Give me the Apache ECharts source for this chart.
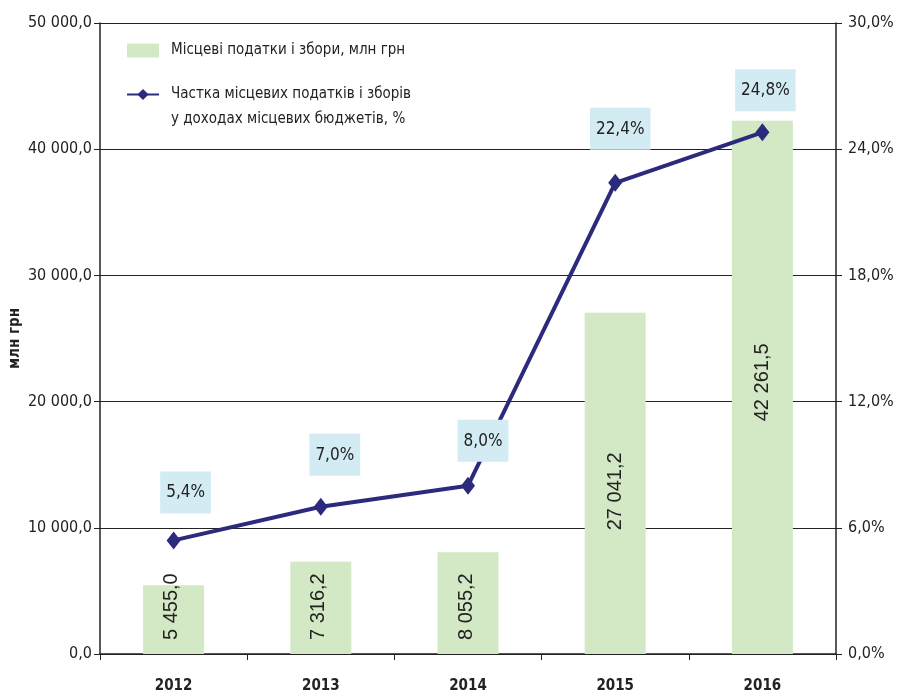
<!DOCTYPE html>
<html>
<head>
<meta charset="utf-8">
<script src="https://cdn.jsdelivr.net/npm/echarts@6/dist/echarts.min.js"></script>
<style>
  html, body { margin: 0; padding: 0; background: #fff; }
  #chart { width: 899px; height: 696px; }
</style>
</head>
<body>
<div id="chart"></div>
<script>
// дані
const years = ['2012', '2013', '2014', '2015', '2016'];
const taxes = [5455.0, 7316.2, 8055.2, 27041.2, 42261.5];
const share = [5.4, 7.0, 8.0, 22.4, 24.8];
const barName = 'Місцеві податки і збори, млн грн';
const lineName = 'Частка місцевих податків і зборів\nу доходах місцевих бюджетів, %';

const FONT = '"Liberation Sans Narrow", "DejaVu Sans Condensed", Arial, sans-serif';
const BAR_FONT = '"Liberation Sans", Arial, sans-serif';

// зсуви підписів (лише оформлення)
const barOffsets = [0, 0, 0, -8, 5];
const boxOffsets = [[12, 0], [14, -4], [15, 3], [5, -6], [3, 6]];

function fmtNum(v, dec) {
  const parts = v.toFixed(dec).split('.');
  parts[0] = parts[0].replace(/\B(?=(\d{3})+(?!\d))/g, ' ');
  return parts.join(',');
}

const chart = echarts.init(document.getElementById('chart'));

// підписи стовпців: малі – від низу, великі – по центру
const barData = taxes.map((v, i) => {
  const small = v < 10000;
  return {
    value: v,
    label: small
      ? { position: 'insideBottom', distance: 14, align: 'left', verticalAlign: 'middle', offset: [0, -2] }
      : { position: 'inside', offset: [barOffsets[i], 0] }
  };
});

const lineData = share.map((v, i) => ({
  value: v,
  label: { offset: boxOffsets[i] }
}));

chart.setOption({
  animation: false,
  textStyle: { fontFamily: FONT },
  grid: { left: 100, right: 63, top: 23, bottom: 42, outerBoundsMode: 'none' },
  legend: {
    orient: 'vertical',
    left: 121,
    top: 33,
    itemWidth: 32,
    itemHeight: 14,
    itemGap: -6,
    formatter: name => name === lineName ? ' \n' + name : name,
    textStyle: { fontFamily: FONT, fontSize: 15, color: '#222', lineHeight: 25, padding: [0, 0, 0, 7] },
    data: [
      { name: barName, icon: 'rect' },
      { name: lineName }
    ]
  },
  xAxis: {
    type: 'category',
    data: years,
    axisLine: { lineStyle: { color: '#222', width: 1.5 } },
    axisTick: { show: true, length: 6, lineStyle: { color: '#222' } },
    axisLabel: { color: '#222', fontSize: 15, fontWeight: 'bold', margin: 25, fontFamily: FONT }
  },
  yAxis: [
    {
      type: 'value',
      min: 0,
      max: 50000,
      interval: 10000,
      name: 'млн грн',
      nameLocation: 'middle',
      nameRotate: 90,
      nameGap: 77,
      nameMoveOverlap: false,
      nameTextStyle: { fontFamily: FONT, fontSize: 15, fontWeight: 'bold', color: '#222' },
      axisLine: { show: true, lineStyle: { color: '#222', width: 1.5 } },
      axisTick: { show: true, length: 6, lineStyle: { color: '#222' } },
      axisLabel: { color: '#222', fontSize: 16, fontFamily: FONT, margin: 8, formatter: v => fmtNum(v, 1) },
      splitLine: { show: true, lineStyle: { color: '#222', width: 1 } }
    },
    {
      type: 'value',
      min: 0,
      max: 30,
      interval: 6,
      position: 'right',
      axisLine: { show: true, lineStyle: { color: '#222', width: 1.5 } },
      axisTick: { show: true, length: 6, lineStyle: { color: '#222' } },
      axisLabel: { color: '#222', fontSize: 16, fontFamily: FONT, margin: 12, formatter: v => fmtNum(v, 1) + '%' },
      splitLine: { show: false }
    }
  ],
  series: [
    {
      name: barName,
      type: 'bar',
      data: barData,
      barWidth: 61,
      itemStyle: { color: '#d3e8c4' },
      label: {
        show: true,
        rotate: 90,
        color: '#222',
        fontSize: 20,
        fontFamily: BAR_FONT,
        formatter: p => fmtNum(p.value, 1)
      }
    },
    {
      name: lineName,
      type: 'line',
      yAxisIndex: 1,
      data: lineData,
      symbol: 'diamond',
      symbolSize: [14, 18],
      lineStyle: { color: '#2b2a7c', width: 4 },
      itemStyle: { color: '#2b2a7c' },
      label: {
        show: true,
        position: 'top',
        distance: 18,
        color: '#222',
        fontSize: 17,
        fontFamily: FONT,
        backgroundColor: '#d3ecf3',
        padding: [13, 6, 12, 6],
        formatter: p => fmtNum(p.value, 1) + '%'
      },
      z: 5
    }
  ]
});
</script>
</body>
</html>
